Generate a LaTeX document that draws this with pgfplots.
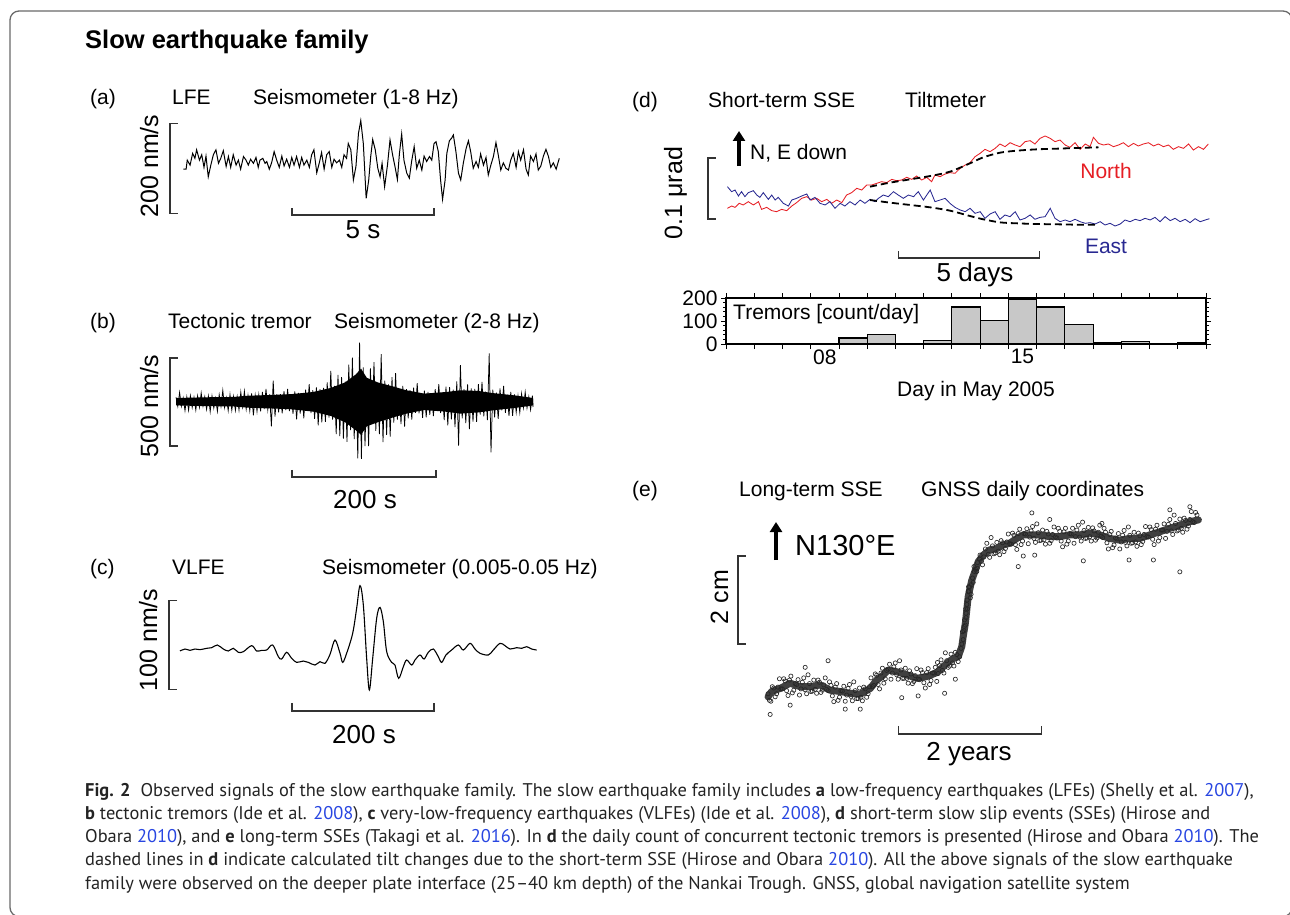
\documentclass[border=0pt]{standalone}
\usepackage{fontspec}
\setmainfont{Liberation Sans}
\newfontfamily\capfont{PT Sans}
\usepackage{pgfplots}
\pgfplotsset{compat=1.18}
\usetikzlibrary{arrows.meta}
\definecolor{nred}{RGB}{230,30,36}
\definecolor{eblue}{RGB}{40,40,145}
\definecolor{linkblue}{RGB}{40,70,225}
\definecolor{framegray}{RGB}{105,105,105}
\definecolor{bargray}{RGB}{200,200,200}
\definecolor{capgray}{RGB}{35,35,35}
\newcommand{\lbl}{\fontsize{21}{24}\selectfont}
\newcommand{\slbl}{\fontsize{26}{30}\selectfont}
\newcommand{\vlbl}{\fontsize{25}{30}\selectfont}
\newcommand{\yr}[1]{\textcolor{linkblue}{#1}}
\pgfplotsset{trace/.style={scale only axis, axis lines=none, clip=false, anchor=south west}}
\tikzset{scalebar/.style={draw=black!80, line width=1.2pt}}
\begin{document}
\begin{tikzpicture}[x=1pt,y=-1pt]
\useasboundingbox (0,0) rectangle (1290,915);
\draw[framegray, line width=1.3pt, rounded corners=9pt] (10,11) rectangle (1292,916.5);

% ---------------- (a) LFE
\begin{axis}[trace, at={(140.1pt,-253.3pt)}, width=440.2pt, height=157.5pt, xmin=-1.5, xmax=14, ymin=-200, ymax=150]
\addplot[black, line width=1pt] coordinates {
(0.02,-13) (0.12,-13) (0.16,7) (0.26,-4) (0.35,22) (0.43,11) (0.49,30) (0.59,7) (0.67,19) (0.75,-9) (0.82,16) (0.90,-30) (0.99,-4) (1.08,19) (1.17,30) (1.26,0) (1.34,11) (1.43,28) (1.53,-7) (1.61,15) (1.69,-9) (1.78,19) (1.88,-4) (1.96,7) (2.04,-13) (2.14,15) (2.23,7) (2.31,-4) (2.39,9) (2.49,0) (2.58,13) (2.66,-9) (2.72,7) (2.82,11) (2.90,0) (2.96,4) (3.05,-13) (3.13,1) (3.22,26) (3.31,7) (3.40,-9) (3.49,16) (3.57,-6) (3.66,9) (3.76,-9) (3.84,13) (3.92,-4) (4.01,15) (4.11,-9) (4.19,13) (4.27,-4) (4.37,7) (4.46,-9) (4.54,19) (4.62,30) (4.72,-21) (4.81,1) (4.89,24) (4.98,-13) (5.07,19) (5.16,26) (5.25,-9) (5.33,9) (5.42,1) (5.52,7) (5.60,-9) (5.68,19) (5.77,11) (5.83,44) (5.92,30) (6.01,-37) (6.10,-7) (6.19,67) (6.27,95) (6.36,44) (6.46,-78) (6.55,-37) (6.62,15) (6.69,53) (6.78,30) (6.87,-11) (6.95,-30) (7.02,0) (7.11,-52) (7.21,-4) (7.30,52) (7.39,19) (7.48,-9) (7.56,-36) (7.63,21) (7.71,65) (7.79,7) (7.89,-22) (7.98,-33) (8.06,4) (8.15,37) (8.24,-11) (8.33,7) (8.42,-15) (8.50,16) (8.59,4) (8.69,15) (8.77,7) (8.85,44) (8.92,48) (9.00,26) (9.08,-37) (9.15,-80) (9.24,-37) (9.30,22) (9.39,50) (9.47,56) (9.53,63) (9.62,26) (9.71,-22) (9.79,-37) (9.88,0) (9.98,33) (10.06,50) (10.14,26) (10.23,-11) (10.33,4) (10.41,-9) (10.49,21) (10.59,-4) (10.68,13) (10.76,-26) (10.85,-4) (10.94,15) (11.03,46) (11.11,19) (11.20,-15) (11.29,1) (11.38,-11) (11.47,-15) (11.55,7) (11.64,22) (11.74,-9) (11.82,26) (11.90,7) (12.00,30) (12.09,-13) (12.17,-26) (12.25,16) (12.35,4) (12.44,21) (12.52,-15) (12.61,-6) (12.70,16) (12.79,31) (12.88,15) (12.96,-9) (13.05,1) (13.15,-13) (13.19,-4) (13.26,11)};
\draw[scalebar] (axis cs:-0.17,89) -- (axis cs:-0.45,89) -- (axis cs:-0.45,-111) -- (axis cs:-0.17,-111);
\draw[scalebar] (axis cs:3.85,-99.5) -- (axis cs:3.85,-115) -- (axis cs:8.85,-115) -- (axis cs:8.85,-99.5);
\end{axis}

% ---------------- (b) tremor
\begin{axis}[trace, at={(147.2pt,-507.3pt)}, width=403.2pt, height=176pt, xmin=-40, xmax=520, ymin=-600, ymax=400]
\addplot[black, fill=black, draw=none] coordinates {
(0,21)(40,25)(80,27)(100,34)(130,38)(160,43)(190,55)(215,78)(235,110)(250,156)(257,188)(265,136)(280,110)(300,88)(320,65)(345,46)(375,55)(395,65)(420,61)(440,49)(470,36)(496,21)
(496,-21)(470,-36)(440,-49)(420,-61)(395,-68)(375,-57)(345,-47)(320,-68)(300,-91)(280,-117)(265,-140)(257,-188)(250,-163)(235,-117)(215,-81)(190,-56)(160,-43)(130,-38)(100,-34)(80,-27)(40,-25)(0,-21)} -- cycle;
\addplot[black, line width=0.75pt] coordinates {
(0,25)(2.5,-27)(5,53)(7.5,-26)(10,22)(12.5,-51)(15,27)(17.5,-49)(20,34)(22.5,-34)(25,25)(27.5,-48)(30,33)(32.5,-32)(35,50)(37.5,-26)(40,29)(42.5,-44)(45,32)(47.5,-57)(50,33)(52.5,-37)(55,20)(57.5,-55)(60,40)(62.5,-27)(65,65)(67.5,-34)(70,22)(72.5,-51)(75,41)(77.5,-49)(80,30)(82.5,-50)(85,29)(87.5,-48)(90,55)(92.5,-29)(95,60)(97.5,-43)(100,36)(102.5,-52)(105,47)(107.5,-78)(110,36)(112.5,-55)(115,40)(117.5,-55)(120,55)(122.5,-42)(125,73)(127.5,-46)(130,42)(132.5,-140)(135,120)(137.5,-84)(140,42)(142.5,-61)(145,43)(147.5,-66)(150,60)(152.5,-48)(155,73)(157.5,-53)(160,43)(162.5,-69)(165,58)(167.5,-100)(170,50)(172.5,-67)(175,46)(177.5,-94)(180,68)(182.5,-49)(185,100)(187.5,-65)(190,66)(192.5,-97)(195,81)(197.5,-135)(200,72)(202.5,-118)(205,78)(207.5,-115)(210,110)(212.5,-91)(215,175)(217.5,-102)(220,90)(222.5,-184)(225,153)(227.5,-196)(230,139)(232.5,-210)(235,114)(237.5,-228)(240,210)(242.5,-161)(245,250)(247.5,-213)(250,144)(252.5,-322)(255,335)(257.5,-325)(260,195)(262.5,-252)(265,130)(267.5,-252)(270,190)(272.5,-123)(275,225)(277.5,-166)(280,102)(282.5,-184)(285,270)(287.5,-230)(290,120)(292.5,-189)(295,98)(297.5,-198)(300,140)(302.5,-119)(305,163)(307.5,-102)(310,69)(312.5,-127)(315,90)(317.5,-142)(320,71)(322.5,-95)(325,65)(327.5,-102)(330,80)(332.5,-64)(335,106)(337.5,-66)(340,43)(342.5,-92)(345,63)(347.5,-89)(350,56)(352.5,-74)(355,40)(357.5,-82)(360,72)(362.5,-45)(365,100)(367.5,-64)(370,51)(372.5,-104)(375,86)(377.5,-135)(380,83)(382.5,-100)(385,68)(387.5,-144)(390,115)(392.5,-250)(395,208)(397.5,-94)(400,72)(402.5,-121)(405,99)(407.5,-155)(410,75)(412.5,-113)(415,73)(417.5,-115)(420,100)(422.5,-73)(425,113)(427.5,-83)(430,57)(432.5,-104)(435,275)(437.5,-288)(440,68)(442.5,-89)(445,52)(447.5,-98)(450,75)(452.5,-49)(455,90)(457.5,-63)(460,40)(462.5,-81)(465,56)(467.5,-81)(470,41)(472.5,-61)(475,33)(477.5,-62)(480,46)(482.5,-35)(485,55)(487.5,-36)(490,28)(492.5,-46)(495,34)(496,-30)};
\draw[scalebar] (axis cs:2.7,248) -- (axis cs:-8.3,248) -- (axis cs:-8.3,-252) -- (axis cs:2.7,-252);
\draw[scalebar] (axis cs:161,-388) -- (axis cs:161,-428) -- (axis cs:361,-428) -- (axis cs:361,-388);
\end{axis}

% ---------------- (c) VLFE
\begin{axis}[trace, at={(137.4pt,-747.9pt)}, width=411.8pt, height=169.1pt, xmin=-60, xmax=520, ymin=-110, ymax=80]
\addplot[black, line width=1.1pt, smooth, tension=0.55] coordinates {
(0,-1.1)(7.0,1.1)(14.1,-0.4)(21.1,1.1)(28.2,0.4)(37.6,1.9)(44.6,2.6)(52.6,5.6)(61.0,1.1)(68.1,-1.1)(75.1,1.9)(82.2,-2.6)(89.2,-1.9)(100.9,4.9)(108.0,-1.1)(115.0,-0.4)(122.1,0)(130.5,5.6)(138.5,-7.5)(143.2,-10.1)(150.2,-2.6)(157.3,-9.4)(164.3,-13.9)(173.7,-12.4)(180.8,-13.9)(190.1,-16.9)(197.2,-13.1)(204.2,-15.0)(211.3,-4.9)(218.3,11.2)(225.4,-3.7)(229.1,-13.9)(234.7,-3.7)(243.2,18.7)(248.8,46.8)(253.5,72.3)(258.2,50.6)(262.9,-9.4)(266.7,-44.9)(271.4,-9.4)(277.0,35.6)(281.7,47.9)(286.4,31.8)(291.1,-1.9)(298.1,-13.9)(302.8,-16.9)(308.0,-31.8)(314.6,-18.7)(319.2,-11.2)(326.3,-16.9)(331.0,-11.2)(338.0,-5.6)(343.7,-10.1)(349.8,-2.6)(356.8,1.1)(363.8,-7.5)(368.5,-13.9)(374.6,-5.6)(382.6,0)(392.0,5.6)(399.1,0)(408.5,7.5)(415.5,1.1)(422.5,-3.7)(434.3,-5.6)(441.3,0)(450.7,7.5)(457.7,4.9)(464.8,1.1)(474.2,2.6)(481.2,1.9)(488.3,3.7)(495.3,1.1)(502.3,0)};
\draw[scalebar] (axis cs:-4.2,56) -- (axis cs:-15.5,56) -- (axis cs:-15.5,-44) -- (axis cs:-4.2,-44);
\draw[scalebar] (axis cs:157.7,-59.5) -- (axis cs:157.7,-68.5) -- (axis cs:357.7,-68.5) -- (axis cs:357.7,-59.5);
\end{axis}

% ---------------- (d) tilt
\begin{axis}[trace, at={(669.5pt,-280pt)}, width=550.7pt, height=146.4pt, xmin=3, xmax=22.5, ymin=-100, ymax=140]
\addplot[nred, line width=0.85pt] coordinates {
(5.05,17.5)(5.20,21.3)(5.32,19.1)(5.47,25.7)(5.61,23.0)(5.79,28.4)(5.97,23.0)(6.15,28.4)(6.26,15.8)(6.44,19.1)(6.62,13.7)(6.79,12.0)(6.97,15.8)(7.15,13.7)(7.33,21.3)(7.50,26.8)(7.68,33.9)(7.86,36.6)(8.03,31.1)(8.21,33.9)(8.39,28.4)(8.57,32.2)(8.74,25.7)(8.92,31.1)(9.10,26.8)(9.27,39.3)(9.45,43.2)(9.63,50.3)(9.81,47.5)(9.98,55.7)(10.16,55.7)(10.34,58.5)(10.51,61.2)(10.69,59.6)(10.87,65.0)(11.04,62.8)(11.22,63.9)(11.40,68.3)(11.58,65.0)(11.75,70.5)(11.93,63.9)(12.11,68.3)(12.28,61.2)(12.40,72.1)(12.58,69.4)(12.76,73.8)(12.93,76.0)(13.11,74.9)(13.29,83.1)(13.47,88.5)(13.64,92.3)(13.82,102.2)(14.00,107.7)(14.17,114.2)(14.35,110.4)(14.53,115.8)(14.70,123.0)(14.88,118.6)(15.06,125.1)(15.24,121.3)(15.41,118.6)(15.59,126.8)(15.77,128.4)(15.94,123.0)(16.12,132.2)(16.30,136.1)(16.48,132.2)(16.65,126.8)(16.83,129.5)(17.01,121.3)(17.18,117.5)(17.36,125.1)(17.54,114.2)(17.72,123.0)(17.89,118.6)(18.01,133.9)(18.19,124.0)(18.37,121.3)(18.54,123.0)(18.72,118.6)(18.90,121.3)(19.07,125.1)(19.25,118.6)(19.43,124.0)(19.60,119.7)(19.78,123.0)(19.96,125.1)(20.14,119.7)(20.31,123.0)(20.49,118.6)(20.67,121.3)(20.84,114.2)(21.02,118.6)(21.20,115.8)(21.38,123.0)(21.55,113.1)(21.73,118.6)(21.91,114.2)(22.08,123.0)};
\addplot[eblue, line width=0.85pt] coordinates {
(5.05,53.0)(5.20,44.8)(5.32,47.5)(5.44,37.7)(5.55,44.8)(5.67,36.6)(5.79,43.2)(5.97,46.4)(6.09,39.3)(6.20,35.5)(6.32,43.2)(6.50,32.2)(6.62,39.3)(6.74,31.1)(6.85,35.5)(7.03,25.7)(7.21,21.3)(7.33,31.1)(7.50,33.9)(7.68,37.7)(7.86,41.0)(7.98,31.1)(8.15,35.5)(8.33,25.7)(8.51,23.0)(8.68,28.4)(8.86,17.5)(9.04,25.7)(9.21,21.3)(9.39,28.4)(9.57,23.0)(9.75,31.1)(9.92,25.7)(10.10,32.2)(10.28,28.4)(10.40,33.9)(10.57,39.3)(10.75,36.6)(10.93,44.8)(11.10,39.3)(11.28,33.9)(11.46,39.3)(11.64,36.6)(11.81,44.8)(11.99,31.1)(12.23,47.5)(12.40,28.4)(12.58,31.1)(12.76,33.9)(12.93,25.7)(13.11,19.1)(13.29,14.8)(13.47,12.0)(13.64,17.5)(13.82,9.3)(14.00,12.0)(14.17,1.1)(14.35,8.2)(14.53,12.0)(14.70,-0.5)(14.88,6.6)(15.06,3.8)(15.24,12.0)(15.41,-1.6)(15.59,1.1)(15.77,6.6)(15.94,-0.5)(16.12,2.7)(16.30,3.8)(16.48,17.5)(16.65,1.1)(16.83,-4.4)(17.01,-1.6)(17.18,-4.4)(17.36,-0.5)(17.54,-4.4)(17.72,-7.1)(17.89,-6.0)(18.07,-8.2)(18.25,-4.4)(18.42,-9.8)(18.60,-7.1)(18.78,-11.5)(18.96,-8.2)(19.13,-1.6)(19.31,-4.4)(19.49,-0.5)(19.66,-2.7)(19.84,1.1)(20.02,-1.6)(20.19,2.7)(20.37,-4.4)(20.55,3.8)(20.73,-2.7)(20.90,1.1)(21.08,-4.4)(21.26,-0.5)(21.43,-6.0)(21.61,0.5)(21.79,-4.4)(21.97,-1.6)(22.12,0.5)};
\addplot[black, line width=1.8pt, dash pattern=on 7pt off 4pt, smooth] coordinates {
(10.10,53.0)(10.81,59.6)(11.52,65.0)(12.23,70.5)(12.93,77.6)(13.64,91.3)(14.11,101.1)(14.70,108.7)(15.30,112.0)(16.00,114.2)(16.71,115.3)(17.42,116.4)(18.19,117.5)};
\addplot[black, line width=1.8pt, dash pattern=on 7pt off 4pt, smooth] coordinates {
(10.10,31.1)(10.81,26.8)(11.52,23.0)(12.23,19.1)(12.93,13.7)(13.64,4.9)(14.11,-0.5)(14.70,-5.5)(15.30,-7.1)(16.00,-8.2)(16.71,-8.7)(17.42,-9.3)(18.19,-9.3)};
\draw[scalebar] (axis cs:4.63,100) -- (axis cs:4.36,100) -- (axis cs:4.36,0) -- (axis cs:4.63,0);
\draw[scalebar] (axis cs:11.1,-52.5) -- (axis cs:11.1,-64) -- (axis cs:16.1,-64) -- (axis cs:16.1,-52.5);
\end{axis}

% ---------------- (d) tremor histogram
\begin{axis}[scale only axis, anchor=south west, at={(726pt,-344pt)}, width=480pt, height=46pt,
  xmin=5, xmax=22, ymin=0, ymax=200, clip=false,
  axis line style={line width=1.3pt},
  xtick={5,...,22}, xticklabels={},
  extra x ticks={8.5,15.5}, extra x tick labels={08,15},
  extra x tick style={major tick length=0pt},
  ytick={0,100,200}, yticklabels={0,100,200},
  minor ytick={20,40,60,80,120,140,160,180},
  tick align=outside, xtick pos=both, ytick pos=both,
  major tick length=5pt, minor tick length=3pt,
  tick style={black, line width=0.8pt},
  tick label style={font=\lbl, text=black},
  xticklabel style={yshift=-2pt}]
\addplot[ybar interval, fill=bargray, draw=black, line width=1.1pt] coordinates {
(5,0) (6,0) (7,0) (8,4) (9,26) (10,43) (11,4) (12,17) (13,161) (14,101) (15,193) (16,161) (17,83) (18,7) (19,9) (20,4) (21,6) (22,6)};
\end{axis}

% ---------------- (e) GNSS
\begin{axis}[trace, at={(682.2pt,-758.4pt)}, width=536.25pt, height=272.8pt, xmin=-1.2, xmax=6.3, ymin=-2.6, ymax=3.6]
\addplot[black!75, line width=7pt, line join=round, line cap=round] coordinates {
(0.00,-1.20)(0.05,-1.08)(0.17,-1.01)(0.31,-0.89)(0.45,-0.97)(0.59,-0.97)(0.73,-0.93)(0.87,-1.05)(1.01,-1.08)(1.15,-1.12)(1.29,-1.14)(1.43,-1.01)(1.52,-0.82)(1.59,-0.74)(1.68,-0.59)(1.80,-0.63)(1.94,-0.70)(2.08,-0.78)(2.22,-0.74)(2.36,-0.65)(2.50,-0.44)(2.59,-0.33)(2.66,-0.29)(2.71,-0.06)(2.73,0.17)(2.76,0.47)(2.78,0.77)(2.80,1.08)(2.85,1.45)(2.90,1.68)(2.94,1.87)(3.01,2.02)(3.10,2.14)(3.20,2.17)(3.29,2.25)(3.38,2.29)(3.48,2.40)(3.57,2.48)(3.66,2.48)(3.80,2.48)(3.94,2.44)(4.08,2.44)(4.22,2.48)(4.36,2.48)(4.50,2.52)(4.64,2.48)(4.78,2.40)(4.92,2.36)(5.06,2.40)(5.20,2.40)(5.34,2.48)(5.48,2.55)(5.62,2.63)(5.76,2.70)(5.90,2.78)(6.02,2.82)};
\addplot[only marks, mark=o, mark size=2.1pt, mark options={draw=black!85, line width=0.65pt}] coordinates {
(0.00,-1.13)(0.04,-1.30)(0.08,-1.00)(0.12,-1.13)(0.16,-0.79)(0.20,-1.02)(0.24,-0.84)(0.28,-1.17)(0.32,-0.73)(0.36,-1.05)(0.40,-0.92)(0.44,-1.16)(0.48,-0.87)(0.52,-1.04)(0.56,-0.70)(0.60,-1.08)(0.64,-0.82)(0.68,-1.12)(0.72,-0.87)(0.76,-1.05)(0.80,-0.77)(0.84,-1.06)(0.88,-0.94)(0.92,-1.31)(0.96,-0.90)(1.00,-1.21)(1.04,-1.07)(1.08,-1.30)(1.12,-1.01)(1.16,-1.19)(1.20,-0.86)(1.24,-1.24)(1.28,-1.00)(1.32,-1.29)(1.36,-1.02)(1.40,-1.13)(1.44,-0.77)(1.48,-0.94)(1.52,-0.71)(1.56,-1.02)(1.60,-0.55)(1.64,-0.79)(1.68,-0.57)(1.72,-0.80)(1.76,-0.52)(1.80,-0.70)(1.84,-0.38)(1.88,-0.78)(1.92,-0.55)(1.96,-0.89)(2.00,-0.68)(2.04,-0.85)(2.08,-0.56)(2.12,-0.81)(2.16,-0.65)(2.20,-1.00)(2.24,-0.56)(2.28,-0.83)(2.32,-0.66)(2.36,-0.85)(2.40,-0.49)(2.44,-0.60)(2.48,-0.20)(2.52,-0.53)(2.56,-0.23)(2.60,-0.50)(2.64,-0.24)(2.68,-0.29)(2.72,0.28)(2.76,0.43)(2.80,1.19)(2.84,1.13)(2.88,1.76)(2.92,1.65)(2.96,1.93)(3.00,1.80)(3.04,2.16)(3.08,2.04)(3.12,2.42)(3.16,2.05)(3.20,2.31)(3.24,2.03)(3.28,2.30)(3.32,2.17)(3.36,2.50)(3.40,2.27)(3.44,2.47)(3.48,2.15)(3.52,2.61)(3.56,2.34)(3.60,2.50)(3.64,2.28)(3.68,2.57)(3.72,2.40)(3.76,2.73)(3.80,2.35)(3.84,2.59)(3.88,2.27)(3.92,2.50)(3.96,2.35)(4.00,2.66)(4.04,2.41)(4.08,2.56)(4.12,2.21)(4.16,2.63)(4.20,2.34)(4.24,2.50)(4.28,2.29)(4.32,2.59)(4.36,2.43)(4.40,2.77)(4.44,2.40)(4.48,2.65)(4.52,2.34)(4.56,2.57)(4.60,2.41)(4.64,2.70)(4.68,2.42)(4.72,2.54)(4.76,2.16)(4.80,2.56)(4.84,2.25)(4.88,2.39)(4.92,2.16)(4.96,2.47)(5.00,2.31)(5.04,2.66)(5.08,2.29)(5.12,2.54)(5.16,2.22)(5.20,2.46)(5.24,2.33)(5.28,2.67)(5.32,2.43)(5.36,2.60)(5.40,2.26)(5.44,2.70)(5.48,2.42)(5.52,2.59)(5.56,2.40)(5.60,2.72)(5.64,2.57)(5.68,2.93)(5.72,2.57)(5.76,2.84)(5.80,2.54)(5.84,2.81)(5.88,2.68)(5.92,3.01)(5.96,2.76)(6.00,2.93)
(0.02,-1.28)(0.06,-0.97)(0.10,-1.20)(0.14,-0.98)(0.18,-1.02)(0.22,-0.79)(0.26,-1.06)(0.30,-0.82)(0.34,-1.11)(0.38,-0.90)(0.42,-0.81)(0.46,-1.02)(0.50,-0.77)(0.54,-1.13)(0.58,-0.90)(0.62,-1.07)(0.66,-1.03)(0.70,-0.82)(0.74,-1.10)(0.78,-0.93)(0.82,-1.03)(0.86,-0.86)(0.90,-1.18)(0.94,-0.98)(0.98,-1.28)(1.02,-1.06)(1.06,-0.96)(1.10,-1.16)(1.14,-0.92)(1.18,-1.29)(1.22,-1.06)(1.26,-1.24)(1.30,-1.21)(1.34,-0.98)(1.38,-1.21)(1.42,-0.97)(1.46,-0.97)(1.50,-0.68)(1.54,-0.92)(1.58,-0.66)(1.62,-0.89)(1.66,-0.60)(1.70,-0.46)(1.74,-0.66)(1.78,-0.43)(1.82,-0.80)(1.86,-0.59)(1.90,-0.78)(1.94,-0.78)(1.98,-0.61)(2.02,-0.90)(2.06,-0.72)(2.10,-0.80)(2.14,-0.59)(2.18,-0.88)(2.22,-0.65)(2.26,-0.92)(2.30,-0.66)(2.34,-0.53)(2.38,-0.67)(2.42,-0.36)(2.46,-0.66)(2.50,-0.38)(2.54,-0.50)(2.58,-0.43)(2.62,-0.19)(2.66,-0.40)
(2.71,0.00)(2.745,0.40)(2.765,0.80)(2.785,1.00)(2.805,1.30)(2.845,1.35)(2.885,1.65)(2.925,1.72)(2.965,2.02)(2.985,1.88)
(3.02,1.98)(3.06,2.29)(3.10,1.97)(3.14,2.23)(3.18,2.07)(3.22,2.11)(3.26,2.35)(3.30,2.10)(3.34,2.32)(3.38,2.28)(3.42,2.52)(3.46,2.26)(3.50,2.51)(3.54,2.26)(3.58,2.51)(3.62,2.62)(3.66,2.43)(3.70,2.67)(3.74,2.31)(3.78,2.53)(3.82,2.36)(3.86,2.37)(3.90,2.56)(3.94,2.29)(3.98,2.49)(4.02,2.43)(4.06,2.63)(4.10,2.34)(4.14,2.55)(4.18,2.27)(4.22,2.51)(4.26,2.63)(4.30,2.44)(4.34,2.70)(4.38,2.34)(4.42,2.58)(4.46,2.41)(4.50,2.44)(4.54,2.64)(4.58,2.36)(4.62,2.54)(4.66,2.45)(4.70,2.63)(4.74,2.30)(4.78,2.49)(4.82,2.19)(4.86,2.41)(4.90,2.51)(4.94,2.32)(4.98,2.58)(5.02,2.23)(5.06,2.47)(5.10,2.30)(5.14,2.32)(5.18,2.52)(5.22,2.26)(5.26,2.49)(5.30,2.44)(5.34,2.66)(5.38,2.38)(5.42,2.61)(5.46,2.34)(5.50,2.59)(5.54,2.73)(5.58,2.56)(5.62,2.83)(5.66,2.49)(5.70,2.74)(5.74,2.59)(5.78,2.63)(5.82,2.86)(5.86,2.61)(5.90,2.83)(5.94,2.78)(5.98,2.99)
(2.70,-0.10)(2.74,0.30)(2.75,0.55)(2.77,0.70)(2.78,0.90)(2.79,0.80)(2.81,1.20)(2.82,1.30)(2.83,1.05)(2.86,1.50)(2.87,1.40)(2.90,1.70)(2.93,1.85)(2.73,0.10)(2.77,0.60)
(0.03,-1.60)(0.52,-0.53)(0.84,-0.38)(0.31,-1.39)(1.08,-1.48)(1.29,-1.48)(1.87,-1.22)(2.10,-1.18)(2.47,-1.12)(2.37,-0.42)(2.62,-0.80)(3.69,2.98)(3.94,2.83)(3.57,2.00)(4.41,1.89)(5.05,1.91)(5.76,1.64)(5.62,3.05)(5.90,3.12)(5.39,1.91)(3.50,1.76)(3.73,2.02)(4.67,2.74)};
\draw[scalebar] (axis cs:-0.31,2) -- (axis cs:-0.42,2) -- (axis cs:-0.42,0) -- (axis cs:-0.31,0);
\draw[scalebar] (axis cs:1.83,-1.86) -- (axis cs:1.83,-2.045) -- (axis cs:3.83,-2.045) -- (axis cs:3.83,-1.86);
\end{axis}

% ---------------- text
\node[anchor=base west, inner sep=0] at (85,48.5) {\fontsize{25.5}{30}\selectfont\bfseries Slow earthquake family};
\begin{scope}[every node/.style={anchor=base west, inner sep=0, font=\lbl}]
\node at (90,105) {(a)}; \node at (172,105) {LFE}; \node at (253,105) {Seismometer (1-8 Hz)};
\node at (90,328) {(b)}; \node at (168,328) {Tectonic tremor}; \node at (334,328) {Seismometer (2-8 Hz)};
\node at (90,574) {(c)}; \node at (172,574) {VLFE}; \node at (322,574) {Seismometer (0.005-0.05 Hz)};
\node at (632,108) {(d)}; \node at (708,108) {Short-term SSE}; \node at (905,108) {Tiltmeter};
\node at (632,496) {(e)}; \node at (739,496) {Long-term SSE}; \node at (921,496) {GNSS daily coordinates};
\node at (750,160) {N, E down};
\node at (733,319) {Tremors [count/day]};
\end{scope}
\begin{scope}[every node/.style={anchor=base, inner sep=0}]
\node[font=\lbl, text=nred] at (1106,178) {North};
\node[font=\lbl, text=eblue] at (1106,253) {East};
\node[font=\lbl] at (976,396) {Day in May 2005};
\node[font=\slbl] at (363,238) {5 s};
\node[font=\slbl] at (365,508) {200 s};
\node[font=\slbl] at (364,743) {200 s};
\node[font=\slbl] at (975,281) {5 days};
\node[font=\slbl] at (969,760) {2 years};
\node[font=\vlbl, rotate=90] at (158,166) {200 nm/s};
\node[font=\vlbl, rotate=90] at (158,406) {500 nm/s};
\node[font=\vlbl, rotate=90] at (157,640) {100 nm/s};
\node[font=\vlbl, rotate=90] at (682,193) {0.1 μrad};
\node[font=\vlbl, rotate=90] at (728,597) {2 cm};
\end{scope}
\node[anchor=base west, inner sep=0, font=\fontsize{29}{34}\selectfont] at (795,555) {N130°E};
\draw[line width=3.5pt, -{Triangle[width=12pt,length=10pt]}] (739,166) -- (739,131);
\draw[line width=3.5pt, -{Triangle[width=12pt,length=10pt]}] (776,560) -- (776,522);

% ---------------- caption
\begin{scope}[every node/.style={anchor=base west, inner sep=0, text=capgray, font=\capfont\fontsize{18.4}{22}\selectfont}]
\node at (85,796) {\textbf{Fig. 2}\hspace{0.55em}Observed signals of the slow earthquake family. The slow earthquake family includes \textbf{a} low-frequency earthquakes (LFEs) (Shelly et al. \yr{2007}),};
\node at (85,819.3) {\textbf{b} tectonic tremors (Ide et al. \yr{2008}), \textbf{c} very-low-frequency earthquakes (VLFEs) (Ide et al. \yr{2008}), \textbf{d} short-term slow slip events (SSEs) (Hirose and};
\node at (85,842.6) {Obara \yr{2010}), and \textbf{e} long-term SSEs (Takagi et al. \yr{2016}). In \textbf{d} the daily count of concurrent tectonic tremors is presented (Hirose and Obara \yr{2010}). The};
\node at (85,865.9) {dashed lines in \textbf{d} indicate calculated tilt changes due to the short-term SSE (Hirose and Obara \yr{2010}). All the above signals of the slow earthquake};
\node at (85,889.2) {family were observed on the deeper plate interface (25–40 km depth) of the Nankai Trough. GNSS, global navigation satellite system};
\end{scope}
\end{tikzpicture}
\end{document}
